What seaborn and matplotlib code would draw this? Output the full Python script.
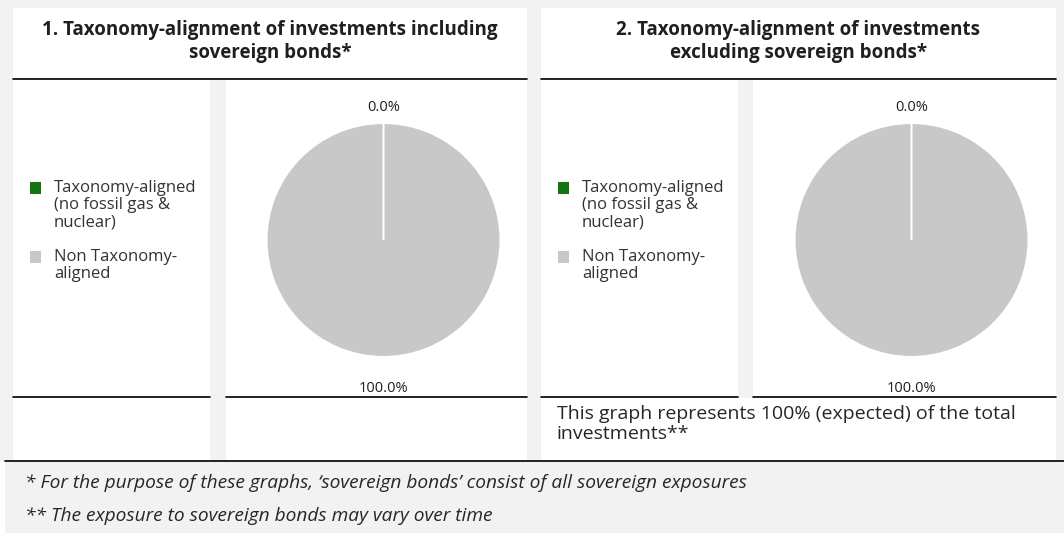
import numpy as np
import matplotlib
matplotlib.use("Agg")
import matplotlib.pyplot as plt
from matplotlib.patches import Rectangle
import seaborn as sns

# data
titles = ["1. Taxonomy-alignment of investments including\nsovereign bonds*",
          "2. Taxonomy-alignment of investments\nexcluding sovereign bonds*"]
categories = ["Taxonomy-aligned\n(no fossil gas &\nnuclear)", "Non Taxonomy-\naligned"]
shares_incl = [0.0, 100.0]
shares_excl = [0.0, 100.0]
colors = ["#127512", "#c8c8c8"]
note_right = "This graph represents 100% (expected) of the total\ninvestments**"
footnotes = ["* For the purpose of these graphs, \u2018sovereign bonds\u2019 consist of all sovereign exposures",
             "** The exposure to sovereign bonds may vary over time"]

sns.set_theme(style="white")
plt.rcParams['font.family'] = ['Open Sans', 'DejaVu Sans']

W, H = 1064, 541
fig = plt.figure(figsize=(W / 100, H / 100), dpi=100)
fig.patch.set_facecolor("white")
TXT = "#1f1f1f"


def box(x, y, w, h, color):
    fig.add_artist(Rectangle((x / W, 1 - (y + h) / H), w / W, h / H,
                             transform=fig.transFigure, facecolor=color,
                             edgecolor="none", zorder=0))


def hline(x0, x1, y, lw=1.2):
    fig.add_artist(plt.Line2D([x0 / W, x1 / W], [1 - y / H, 1 - y / H],
                              transform=fig.transFigure, color="black", lw=lw))


def text(x, y, s, **kw):
    fig.text(x / W, 1 - y / H, s, **kw)


# backgrounds
box(0, 0, W, 461, "#f2f2f2")
box(5, 461, W - 5, 72, "#f2f2f2")

panels = [(13, 527, 210, 226, shares_incl, False), (541, 1056, 738, 753, shares_excl, True)]
for i, (x0, x1, lx1, px0, shares, merged) in enumerate(panels):
    # header
    box(x0, 8, x1 - x0, 70, "white")
    hline(x0, x1, 78.5)
    text((x0 + x1) / 2, 41.5, titles[i], ha="center", va="center", fontsize=13.5,
         fontweight="bold", color=TXT, linespacing=1.17)
    # body cells
    box(x0, 80, lx1 - x0, 316, "white")
    box(px0, 80, x1 - px0, 316, "white")
    hline(x0, lx1, 396.5)
    hline(px0, x1, 396.5)
    # bottom row
    if merged:
        box(x0, 398, x1 - x0, 62, "white")
        text(x0 + 16, 424, note_right, ha="left", va="center", fontsize=14,
             color="#262626", linespacing=1.2)
    else:
        box(x0, 398, lx1 - x0, 62, "white")
        box(px0, 398, x1 - px0, 62, "white")

    # legend
    ly = [188, 257]
    for c, lab, y in zip(colors, categories, ly):
        box(x0 + 17, y - 5.5, 11, 11, c)
        text(x0 + 41, y - 8, lab, ha="left", va="top", fontsize=12,
             color="#333333", linespacing=1.1)

    # pie
    cx = (px0 + x1) / 2 + 7
    cy = 240
    S = 130
    ax = fig.add_axes([(cx - S) / W, 1 - (cy + S) / H, 2 * S / W, 2 * S / H])
    wedges, texts, autotexts = ax.pie(shares, colors=colors, startangle=90,
                                      counterclock=False, radius=1,
                                      autopct="%.1f%%", pctdistance=1.13,
                                      wedgeprops=dict(edgecolor="white", linewidth=1.5),
                                      textprops=dict(fontsize=10.5, color=TXT))
    wedges[0].set_zorder(3)
    autotexts[1].set_position((0, -1.265))
    ax.set_xlim(-1.111, 1.111)
    ax.set_ylim(-1.111, 1.111)
    ax.set_aspect("equal")
    ax.axis("off")

# footnotes
hline(5, W, 460.5)
text(25, 483, footnotes[0], ha="left", va="center", fontsize=13.8, style="italic", color="#262626")
text(25, 516, footnotes[1], ha="left", va="center", fontsize=13.8, style="italic", color="#262626")

fig.savefig("out.png", dpi=100, facecolor=fig.get_facecolor())
